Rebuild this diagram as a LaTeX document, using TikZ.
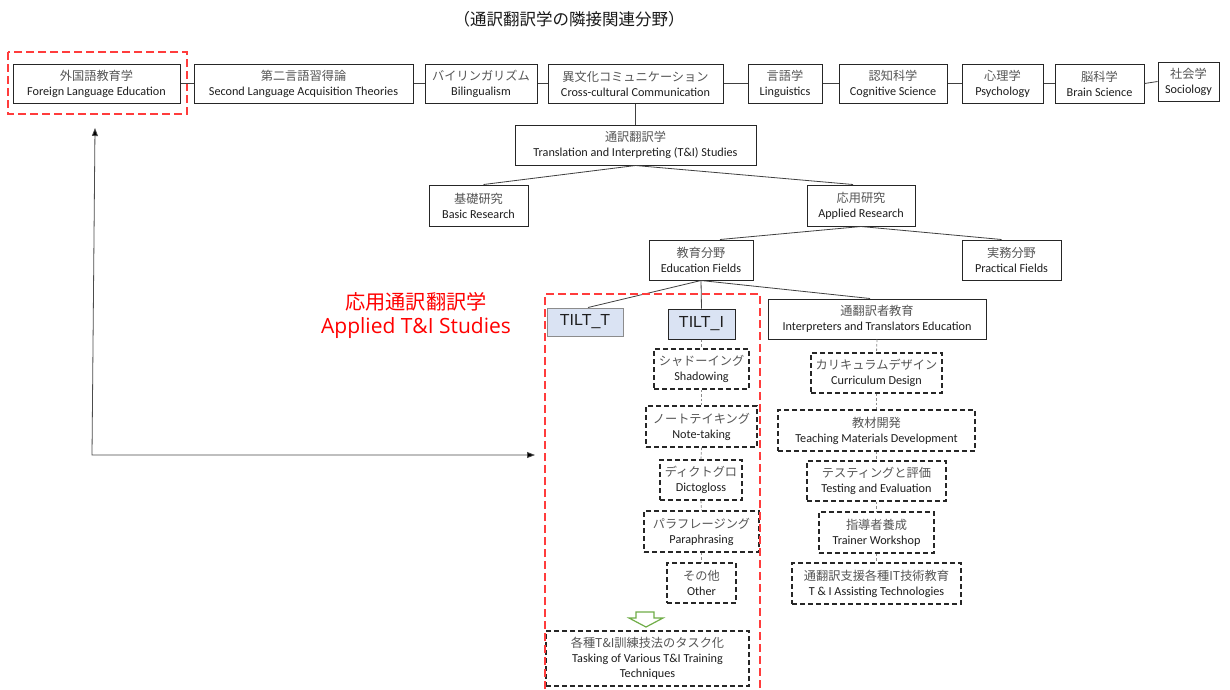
\documentclass[tikz,border=0pt]{standalone}
\usepackage{fontspec}
\setmainfont{Carlito}
\newfontfamily\jp{Noto Sans CJK JP}
\newfontfamily\labfont{Open Sans}
\newfontfamily\arfont{Liberation Sans}
\usetikzlibrary{arrows.meta,calc}
\definecolor{jpc}{RGB}{85,85,85}
\definecolor{enc}{RGB}{30,30,30}
\definecolor{redd}{RGB}{255,60,60}
\definecolor{labred}{RGB}{255,0,0}
\definecolor{tiltfill}{RGB}{218,227,243}
\definecolor{grn}{RGB}{112,173,71}
\newcommand{\JE}[2]{{\color{jpc}\jp #1}\\{\color{enc}#2}}
\begin{document}
\begin{tikzpicture}[x=1pt,y=-1pt,
  box/.style={draw=black!85, line width=1pt, inner sep=0pt, align=center,
    font=\fontsize{12.2}{15}\selectfont},
  dbox/.style={box, dash pattern=on 5pt off 3pt, line width=1.1pt},
  tilt/.style={draw=black!85, line width=1pt, fill=tiltfill, inner sep=0pt,
    font=\arfont\fontsize{16}{18}\selectfont, text=enc},
  conn/.style={draw=black!75, line width=0.8pt},
  dconn/.style={draw=black!45, line width=0.8pt, dash pattern=on 2.5pt off 2pt},
  reddash/.style={draw=redd, line width=1.4pt, dash pattern=on 8pt off 4pt},
  arr/.style={draw=black!70, line width=0.8pt, {Triangle[length=8pt,width=6pt,fill=black]}-{Triangle[length=8pt,width=6pt,fill=black]}}
]
\useasboundingbox (0,0) rectangle (1230,689);
\fill[white] (0,0) rectangle (1230,689);

% title
\node[font=\jp\fontsize{16.5}{19}\selectfont, text=black!90] (title) at (569,19) {（通訳翻訳学の隣接関連分野）};

% top row
\node[box, minimum width=167pt, minimum height=39pt] (fle) at (96.5,83.5) {\JE{外国語教育学}{Foreign Language Education}};
\node[box, minimum width=219pt, minimum height=39pt] (sla) at (303.5,83.5) {\JE{第二言語習得論}{Second Language Acquisition Theories}};
\node[box, minimum width=112pt, minimum height=39pt] (bil) at (481,83.5) {\JE{バイリンガリズム}{Bilingualism}};
\node[box, minimum width=175pt, minimum height=39pt] (ccc) at (635.5,83.5) {\JE{異文化コミュニケーション}{Cross-cultural Communication}};
\node[box, minimum width=74pt, minimum height=39pt] (lin) at (785,83.5) {\JE{言語学}{Linguistics}};
\node[box, minimum width=108pt, minimum height=39pt] (cog) at (893,83.5) {\JE{認知科学}{Cognitive Science}};
\node[box, minimum width=81pt, minimum height=39pt] (psy) at (1002.5,83.5) {\JE{心理学}{Psychology}};
\node[box, minimum width=89pt, minimum height=39pt] (brain) at (1099.5,83.5) {\JE{脳科学}{Brain Science}};
\node[box, minimum width=61pt, minimum height=39pt] (soc) at (1188.5,81.5) {\JE{社会学}{Sociology}};

\draw[reddash] (8,52) rectangle (187,114);

\foreach \a/\b in {fle/sla,sla/bil,bil/ccc,ccc/lin,lin/cog,cog/psy,psy/brain,brain/soc}
  \draw[conn] (\a.east) -- (\b.west);

% hierarchy
\node[box, minimum width=241pt, minimum height=40pt] (tis) at (635.5,145) {\JE{通訳翻訳学}{Translation and Interpreting (T\&I) Studies}};
\node[box, minimum width=99pt, minimum height=41pt] (basic) at (478.5,205.5) {\JE{基礎研究}{Basic Research}};
\node[box, minimum width=108pt, minimum height=41pt] (applied) at (861,205.5) {\JE{応用研究}{Applied Research}};
\node[box, minimum width=104pt, minimum height=40pt] (edu) at (701,260) {\JE{教育分野}{Education Fields}};
\node[box, minimum width=99pt, minimum height=40pt] (prac) at (1011.5,260) {\JE{実務分野}{Practical Fields}};

\draw[conn] (ccc.south) -- (tis.north);
\draw[conn] (tis.south) -- ($(basic.north)+(5,0)$);
\draw[conn] (tis.south) -- ($(applied.north)+(-8,0)$);
\draw[conn] (applied.south) -- ($(edu.north)+(19,0)$);
\draw[conn] (applied.south) -- ($(prac.north)+(-10,0)$);

% education subtree
\node[tilt, draw=black!45, minimum width=76pt, minimum height=28pt] (tiltT) at (585,322) {TILT\_T};
\node[tilt, minimum width=67pt, minimum height=30pt] (tiltI) at (701.5,324) {TILT\_I};
\node[box, minimum width=218pt, minimum height=40pt] (ite) at (877,319) {\JE{通翻訳者教育}{Interpreters and Translators Education}};

\draw[conn] (edu.south) -- ($(tiltT.north)+(3,0)$);
\draw[conn] (edu.south) -- (tiltI.north);
\draw[conn] (edu.south) -- ($(ite.north)+(-7,0)$);

% TILT_I column
\node[dbox, minimum width=95pt, minimum height=40pt] (shad) at (701.5,369) {\JE{シャドーイング}{Shadowing}};
\node[dbox, minimum width=111pt, minimum height=41pt] (note) at (701.5,426.5) {\JE{ノートテイキング}{Note-taking}};
\node[dbox, minimum width=82pt, minimum height=40pt] (dict) at (701,480) {\JE{ディクトグロ}{Dictogloss}};
\node[dbox, minimum width=115pt, minimum height=41pt] (para) at (701.5,531.5) {\JE{パラフレージング}{Paraphrasing}};
\node[dbox, minimum width=69pt, minimum height=40pt] (other) at (701.5,583) {\JE{その他}{Other}};
\node[dbox, minimum width=203pt, minimum height=55pt] (task) at (647.5,658.5) {{\color{jpc}\jp 各種T\&I訓練技法のタスク化}\\{\color{enc}Tasking of Various T\&I Training}\\{\color{enc}Techniques}};

\foreach \a/\b in {tiltI/shad,shad/note,note/dict,dict/para,para/other}
  \draw[dconn] (\a.south) -- (\b.north);

% ITE column
\node[dbox, minimum width=131pt, minimum height=40pt] (curr) at (876.5,373) {\JE{カリキュラムデザイン}{Curriculum Design}};
\node[dbox, minimum width=197pt, minimum height=41pt] (teach) at (876.5,430.5) {\JE{教材開発}{Teaching Materials Development}};
\node[dbox, minimum width=139pt, minimum height=40pt] (test) at (876.5,481) {\JE{テスティングと評価}{Testing and Evaluation}};
\node[dbox, minimum width=115pt, minimum height=41pt] (trainer) at (876.5,532.5) {\JE{指導者養成}{Trainer Workshop}};
\node[dbox, minimum width=169pt, minimum height=41pt] (assist) at (876.5,583.5) {\JE{通翻訳支援各種IT技術教育}{T \& I Assisting Technologies}};

\foreach \a/\b in {ite/curr,curr/teach,teach/test,test/trainer,trainer/assist}
  \draw[dconn] (\a.south) -- (\b.north);

% green hollow arrow
\draw[draw=grn, line width=1.2pt, fill=white, line join=miter]
  (636,612) -- (654,612) -- (654,618) -- (663,618) -- (646,627) -- (629,618) -- (636,618) -- cycle;

% applied T&I area
\draw[reddash] (545,689) -- (545,294) -- (760,294) -- (760,689);
\node[text=labred, font=\jp\fontsize{20.2}{22}\selectfont] (labjp) at (416,302) {応用通訳翻訳学};
\node[text=labred, font=\labfont\fontsize{21}{23}\selectfont] (laben) at (416,328) {Applied T\&I Studies};

% L arrow
\coordinate (atop) at (95,128);
\coordinate (acorner) at (92,455);
\coordinate (aright) at (535,455);
\draw[arr] (atop) -- (acorner) -- (aright);
\end{tikzpicture}
\end{document}
